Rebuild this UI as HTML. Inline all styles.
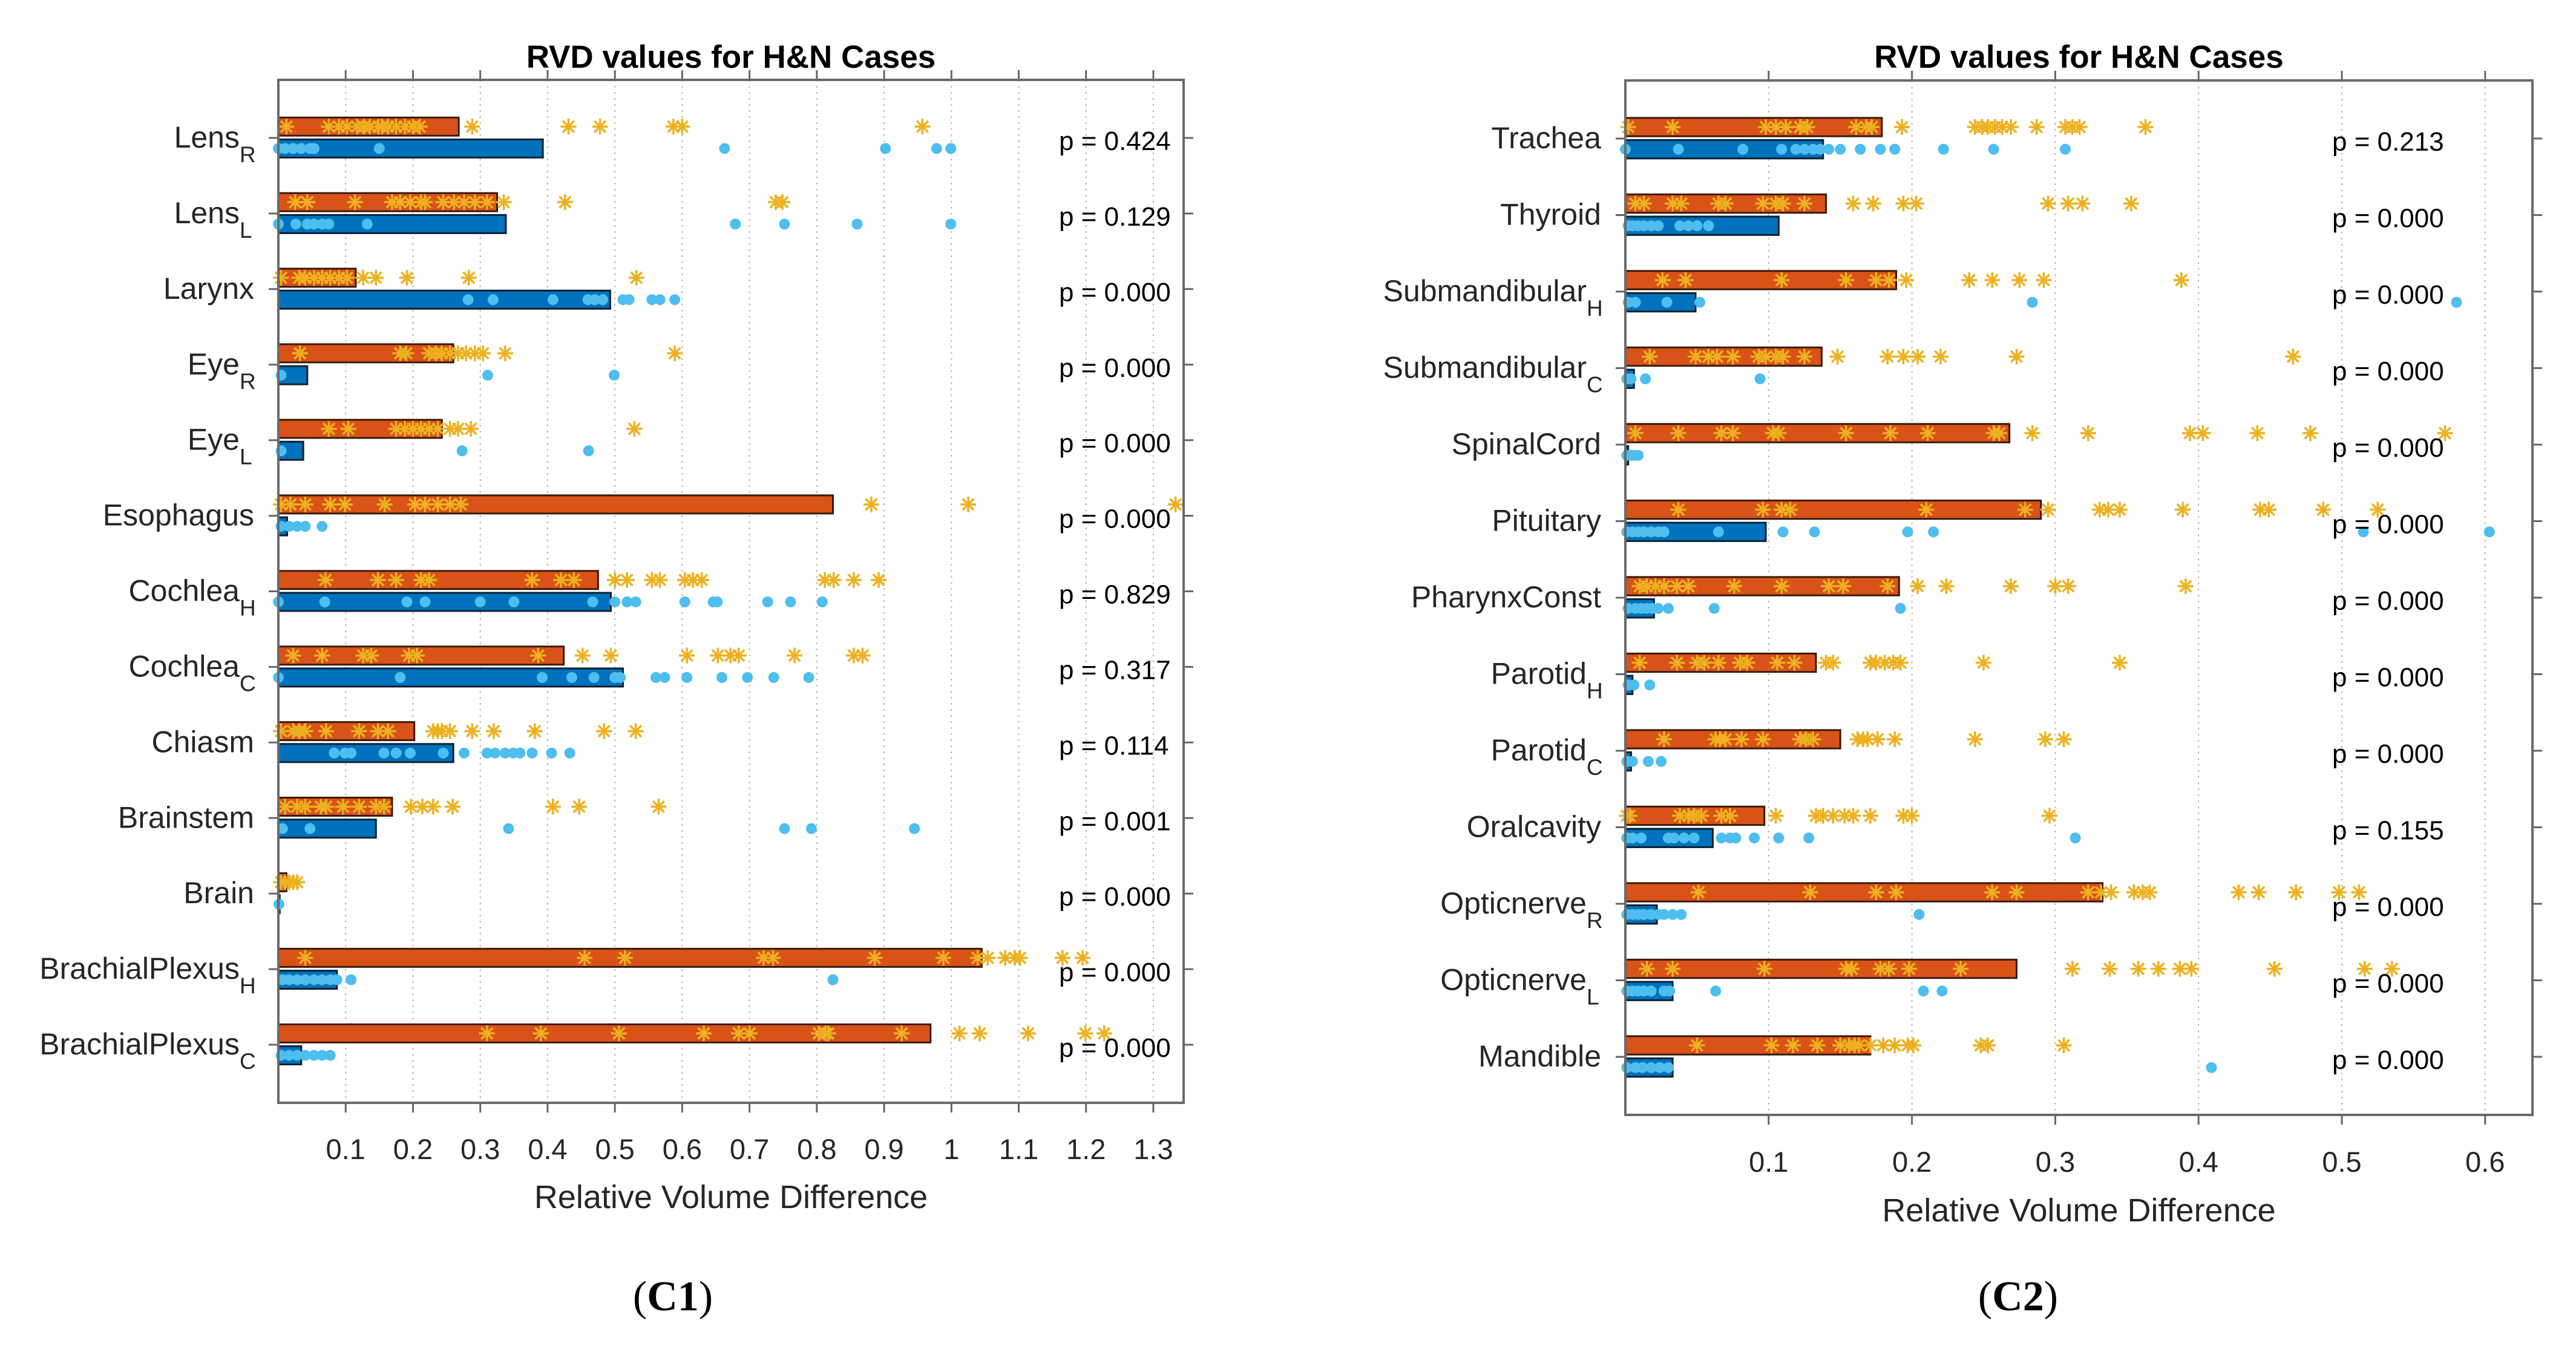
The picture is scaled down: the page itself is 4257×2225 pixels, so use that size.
<!DOCTYPE html>
<html><head><meta charset="utf-8"><style>
html,body{margin:0;padding:0;background:#fff;}
svg{display:block;font-family:"Liberation Sans",Arial,sans-serif;}
</style></head><body>
<svg id="fig" xmlns="http://www.w3.org/2000/svg" width="4257" height="2225" viewBox="0 0 4257 2225">
<rect x="0" y="0" width="4257" height="2225" fill="#fff"/>
<g id="panelL"></g>
<g id="panelR"></g>
<text x="1112" y="2166" text-anchor="middle" font-family="'Liberation Serif',serif" font-size="70" fill="#000">(<tspan font-weight="bold">C1</tspan>)</text>
<text x="3335" y="2166" text-anchor="middle" font-family="'Liberation Serif',serif" font-size="70" fill="#000">(<tspan font-weight="bold">C2</tspan>)</text>
</svg>
<script>
// ---- Panel C1 data ----
const categoriesL = ["Lens_R","Lens_L","Larynx","Eye_R","Eye_L","Esophagus","Cochlea_H","Cochlea_C","Chiasm","Brainstem","Brain","BrachialPlexus_H","BrachialPlexus_C"];
const orangeL = [0.268,0.325,0.115,0.26,0.243,0.824,0.475,0.424,0.202,0.169,0.012,1.045,0.969];
const blueL = [0.393,0.338,0.493,0.043,0.037,0.013,0.494,0.512,0.26,0.145,0.002,0.087,0.034];
const starsL = [
 [0.012,0.075,0.09,0.102,0.117,0.127,0.136,0.149,0.154,0.163,0.175,0.188,0.2,0.21,0.288,0.431,0.478,0.587,0.6,0.957],
 [0.025,0.043,0.114,0.169,0.181,0.196,0.212,0.218,0.245,0.261,0.276,0.292,0.31,0.335,0.426,0.739,0.749],
 [0.004,0.031,0.04,0.053,0.065,0.077,0.09,0.102,0.126,0.145,0.191,0.283,0.532],
 [0.032,0.181,0.19,0.224,0.234,0.243,0.255,0.267,0.279,0.292,0.304,0.337,0.589],
 [0.075,0.104,0.175,0.188,0.2,0.212,0.224,0.237,0.255,0.267,0.286,0.529],
 [0.004,0.018,0.04,0.077,0.099,0.158,0.203,0.218,0.237,0.255,0.271,0.881,1.025,1.333],
 [0.07,0.148,0.175,0.212,0.224,0.377,0.42,0.439,0.5,0.518,0.555,0.567,0.604,0.616,0.629,0.812,0.825,0.855,0.892],
 [0.022,0.065,0.126,0.138,0.194,0.206,0.386,0.452,0.494,0.607,0.653,0.672,0.684,0.767,0.855,0.868],
 [0.004,0.022,0.031,0.04,0.071,0.12,0.148,0.163,0.23,0.237,0.243,0.255,0.288,0.32,0.381,0.484,0.531],
 [0.01,0.028,0.04,0.063,0.071,0.096,0.12,0.145,0.157,0.197,0.214,0.23,0.259,0.408,0.447,0.565],
 [0.004,0.01,0.016,0.022,0.028],
 [0.04,0.455,0.515,0.721,0.735,0.886,0.988,1.039,1.054,1.08,1.094,1.102,1.165,1.195],
 [0.31,0.39,0.506,0.632,0.684,0.7,0.803,0.813,0.817,0.926,1.012,1.042,1.114,1.199,1.227]
];
const dotsL = [
 [0,0.01,0.022,0.034,0.047,0.053,0.15,0.663,0.902,0.978,0.999],
 [0,0.026,0.043,0.053,0.065,0.075,0.132,0.679,0.752,0.86,0.999],
 [0.282,0.319,0.408,0.46,0.47,0.482,0.512,0.521,0.555,0.567,0.589],
 [0.004,0.311,0.499],
 [0.004,0.273,0.461],
 [0.004,0.016,0.028,0.04,0.065],
 [0,0.069,0.191,0.218,0.3,0.35,0.467,0.5,0.518,0.531,0.604,0.646,0.652,0.727,0.761,0.808],
 [0,0.181,0.392,0.436,0.469,0.5,0.508,0.561,0.574,0.607,0.659,0.697,0.736,0.788],
 [0.083,0.099,0.108,0.157,0.175,0.196,0.245,0.276,0.31,0.322,0.337,0.349,0.359,0.377,0.406,0.433],
 [0.006,0.047,0.342,0.752,0.792,0.945],
 [0.001],
 [0.006,0.016,0.028,0.04,0.053,0.065,0.077,0.087,0.108,0.824],
 [0.004,0.016,0.028,0.04,0.053,0.065,0.077]
];
const pValuesL = ["0.424","0.129","0.000","0.000","0.000","0.000","0.829","0.317","0.114","0.001","0.000","0.000","0.000"];
const xTicksL = [0.1,0.2,0.3,0.4,0.5,0.6,0.7,0.8,0.9,1,1.1,1.2,1.3];
const xTickLabelsL = ["0.1","0.2","0.3","0.4","0.5","0.6","0.7","0.8","0.9","1","1.1","1.2","1.3"];

// ---- Panel C2 data ----
const categoriesR = ["Trachea","Thyroid","Submandibular_H","Submandibular_C","SpinalCord","Pituitary","PharynxConst","Parotid_H","Parotid_C","Oralcavity","Opticnerve_R","Opticnerve_L","Mandible"];
const orangeR = [0.179,0.14,0.189,0.137,0.268,0.29,0.191,0.133,0.15,0.097,0.333,0.273,0.171];
const blueR = [0.138,0.107,0.049,0.006,0.002,0.098,0.02,0.005,0.004,0.061,0.022,0.033,0.033];
const starsR = [
 [0.002,0.033,0.098,0.105,0.112,0.122,0.127,0.161,0.168,0.172,0.193,0.244,0.249,0.253,0.258,0.263,0.269,0.287,0.307,0.312,0.317,0.363],
 [0.007,0.013,0.033,0.039,0.065,0.07,0.096,0.105,0.11,0.125,0.159,0.173,0.194,0.203,0.295,0.309,0.319,0.353],
 [0.026,0.042,0.109,0.154,0.175,0.184,0.196,0.24,0.256,0.275,0.292,0.388],
 [0.017,0.049,0.058,0.064,0.075,0.093,0.098,0.105,0.11,0.125,0.148,0.183,0.194,0.204,0.22,0.273,0.466],
 [0.007,0.037,0.067,0.075,0.103,0.107,0.154,0.185,0.211,0.257,0.261,0.284,0.323,0.394,0.403,0.441,0.478,0.572],
 [0.037,0.096,0.109,0.115,0.21,0.279,0.295,0.331,0.337,0.345,0.389,0.443,0.449,0.487,0.525],
 [0.01,0.015,0.021,0.027,0.036,0.044,0.076,0.109,0.142,0.152,0.183,0.204,0.224,0.269,0.3,0.309,0.391],
 [0.01,0.036,0.05,0.055,0.065,0.08,0.085,0.106,0.118,0.14,0.145,0.171,0.175,0.181,0.187,0.192,0.25,0.345],
 [0.027,0.063,0.066,0.07,0.081,0.096,0.122,0.126,0.131,0.162,0.166,0.169,0.176,0.188,0.244,0.293,0.306],
 [0.001,0.003,0.038,0.044,0.048,0.053,0.067,0.073,0.105,0.133,0.138,0.145,0.153,0.159,0.171,0.194,0.2,0.296],
 [0.051,0.129,0.175,0.189,0.256,0.273,0.323,0.332,0.339,0.355,0.361,0.366,0.428,0.442,0.468,0.498,0.512],
 [0.015,0.033,0.097,0.154,0.158,0.178,0.184,0.198,0.234,0.312,0.338,0.358,0.372,0.387,0.395,0.453,0.516,0.535],
 [0.05,0.102,0.117,0.134,0.15,0.156,0.16,0.163,0.171,0.18,0.188,0.197,0.201,0.248,0.253,0.306]
];
const dotsR = [
 [0,0.037,0.082,0.109,0.119,0.125,0.131,0.136,0.142,0.15,0.164,0.178,0.188,0.222,0.257,0.307],
 [0.002,0.005,0.009,0.013,0.018,0.023,0.038,0.044,0.05,0.058],
 [0.002,0.007,0.029,0.052,0.284,0.58],
 [0.001,0.004,0.014,0.094],
 [0.001,0.004,0.007,0.009],
 [0.001,0.005,0.009,0.013,0.018,0.023,0.027,0.065,0.11,0.132,0.197,0.215,0.515,0.603],
 [0.002,0.007,0.011,0.015,0.019,0.023,0.03,0.062,0.192],
 [0.002,0.006,0.017],
 [0.001,0.005,0.016,0.025],
 [0.001,0.005,0.011,0.03,0.034,0.041,0.048,0.067,0.073,0.077,0.09,0.107,0.128,0.314],
 [0.001,0.005,0.009,0.013,0.018,0.023,0.027,0.033,0.039,0.205],
 [0.001,0.005,0.009,0.013,0.018,0.027,0.031,0.063,0.208,0.221],
 [0.001,0.007,0.012,0.018,0.024,0.03,0.409]
];
const pValuesR = ["0.213","0.000","0.000","0.000","0.000","0.000","0.000","0.000","0.000","0.155","0.000","0.000","0.000"];
const xTicksR = [0.1,0.2,0.3,0.4,0.5,0.6];
const xTickLabelsR = ["0.1","0.2","0.3","0.4","0.5","0.6"];

const NS = "http://www.w3.org/2000/svg";
function mk(parent, tag, attrs){
  const e = document.createElementNS(NS, tag);
  for (const k in attrs) e.setAttribute(k, attrs[k]);
  parent.appendChild(e);
  return e;
}

function drawPanel(g, cfg){
  const {left,right,top,bottom,xmax,cats,orange,blue,stars,dots,pv,ticks,tickLabels,pX,tickLabelY,xlabelY} = cfg;
  const xs = v => left + v/xmax*(right-left);
  const sp = (bottom-top-192)/12;
  const ys = i => top + 96 + i*sp;

  ticks.forEach((t)=>{
    const l = mk(g,'line',{x1:xs(t),x2:xs(t),y1:top,y2:bottom,stroke:'#b8b8b8','stroke-width':2,'stroke-dasharray':'3,7'});
    
    
  });

  cats.forEach((c,i)=>{
    const yc = ys(i);
    const h = 0.24*sp;
    const oy = yc - 0.15*sp, by = yc + 0.14*sp;
    const ob = mk(g,'rect',{x:xs(0),y:oy-h/2,width:xs(orange[i])-xs(0),height:h,fill:'#D95319',stroke:'#3a1a08','stroke-width':3});
    
    
    const bb = mk(g,'rect',{x:xs(0),y:by-h/2,width:Math.max(2,xs(blue[i])-xs(0)),height:h,fill:'#0072BD',stroke:'#0a2030','stroke-width':3});
    
    
    stars[i].forEach(v=>{
      const x=xs(v), r=13, d=r*0.72;
      const s = mk(g,'path',{d:`M${x-r} ${oy}H${x+r}M${x} ${oy-r}V${oy+r}M${x-d} ${oy-d}L${x+d} ${oy+d}M${x-d} ${oy+d}L${x+d} ${oy-d}`,stroke:'#EDB120','stroke-width':3.5,fill:'none'});
      
      
    });
    dots[i].forEach(v=>{
      const d = mk(g,'ellipse',{cx:xs(v),cy:by,rx:9,ry:9,fill:'#4DBEEE'});
      
      
    });
    const parts = c.split('_');
    const t = mk(g,'text',{x:left-40,y:yc+16,'text-anchor':'end','font-size':50,fill:'#262626'});
    
    
    if (parts.length>1){
      t.setAttribute('x', left-40-24);
      t.textContent = parts[0];
      const s = mk(g,'text',{x:left-64,y:yc+40,'font-size':37,fill:'#262626'});
      
      
      s.textContent = parts[1];
    } else t.textContent = parts[0];
    const p = mk(g,'text',{x:pX,y:yc+20,'font-size':44,fill:'#000'});
    
    
    p.textContent = 'p = '+pv[i];
    mk(g,'line',{x1:left-16,x2:left,y1:yc,y2:yc,stroke:'#666','stroke-width':3});
    mk(g,'line',{x1:right,x2:right+16,y1:yc,y2:yc,stroke:'#666','stroke-width':3});
  });

  ticks.forEach((t,k)=>{
    mk(g,'line',{x1:xs(t),x2:xs(t),y1:top-16,y2:top,stroke:'#666','stroke-width':3});
    mk(g,'line',{x1:xs(t),x2:xs(t),y1:bottom,y2:bottom+16,stroke:'#666','stroke-width':3});
    const tl = mk(g,'text',{x:xs(t),y:tickLabelY,'text-anchor':'middle','font-size':47,fill:'#262626'});
    
    
    tl.textContent = tickLabels[k];
  });

  const box = mk(g,'rect',{x:left,y:top,width:right-left,height:bottom-top,fill:'none',stroke:'#6a6a6a','stroke-width':4});
  
  

  const ti = mk(g,'text',{x:(left+right)/2,y:112,'text-anchor':'middle','font-size':53,'font-weight':'bold',fill:'#000'});
  
  
  ti.textContent = 'RVD values for H&N Cases';

  const xl = mk(g,'text',{x:(left+right)/2,y:xlabelY,'text-anchor':'middle','font-size':54,fill:'#262626'});
  
  
  xl.textContent = 'Relative Volume Difference';
}

drawPanel(document.getElementById('panelL'),{left:460,right:1956,top:132,bottom:1823,xmax:1.345,
  cats:categoriesL,orange:orangeL,blue:blueL,stars:starsL,dots:dotsL,pv:pValuesL,ticks:xTicksL,tickLabels:xTickLabelsL,
  pX:1750,tickLabelY:1916,xlabelY:1997});
drawPanel(document.getElementById('panelR'),{left:2686,right:4185,top:133,bottom:1843,xmax:0.633,
  cats:categoriesR,orange:orangeR,blue:blueR,stars:starsR,dots:dotsR,pv:pValuesR,ticks:xTicksR,tickLabels:xTickLabelsR,
  pX:3854,tickLabelY:1937,xlabelY:2019});
</script>
</body></html>
